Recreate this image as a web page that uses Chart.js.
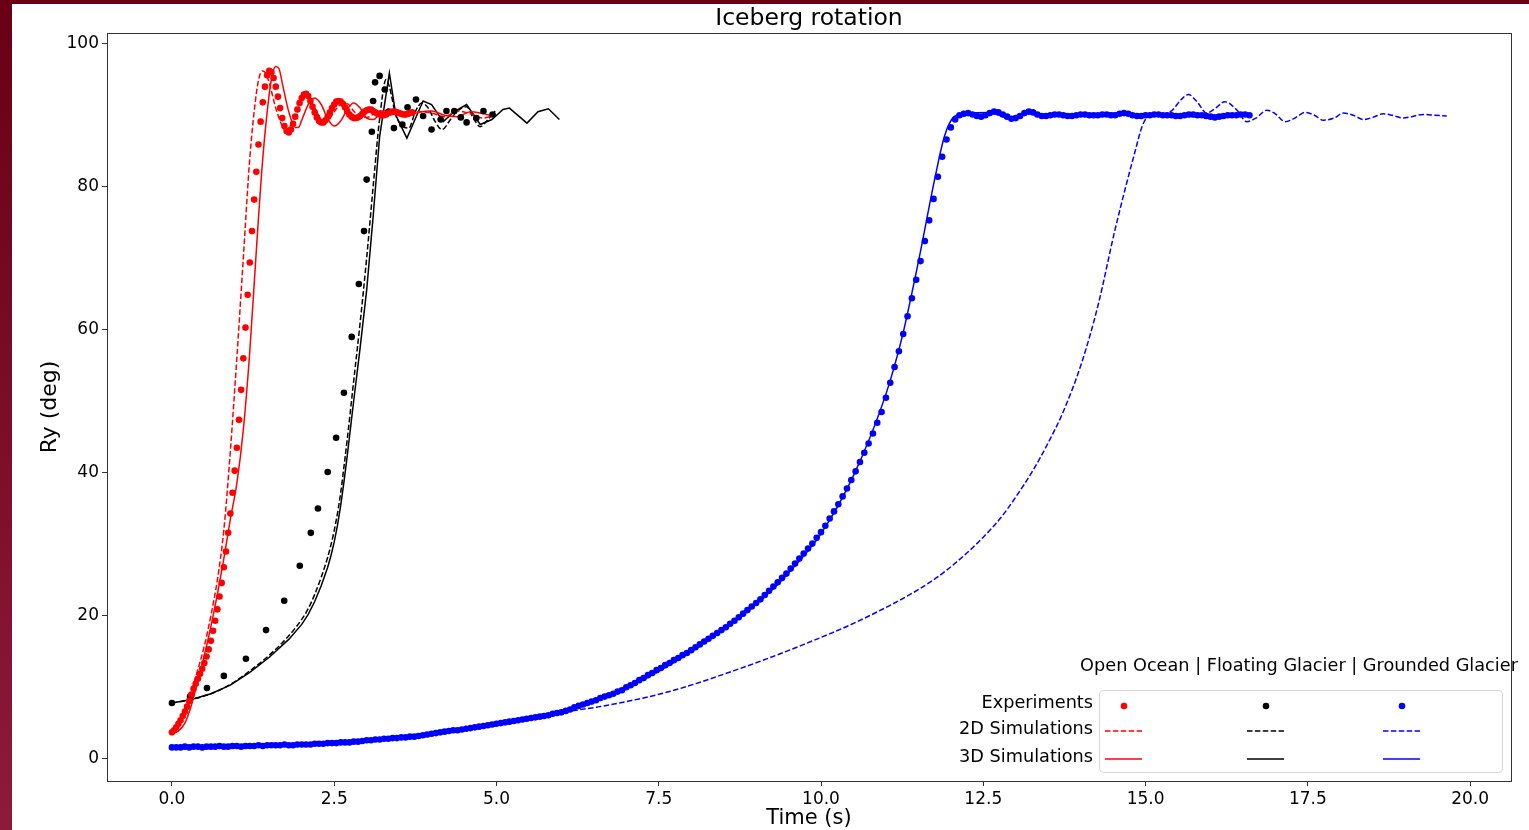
<!DOCTYPE html>
<html>
<head>
<meta charset="utf-8">
<script src="https://cdn.jsdelivr.net/npm/chart.js@4.4.1/dist/chart.umd.min.js"></script>
<style>
  html, body { margin: 0; padding: 0; width: 1529px; height: 830px; overflow: hidden; }
  body { background: linear-gradient(to bottom, #690014, #8c1a3c); }
  #wrap { position: absolute; left: 12px; top: 4px; width: 1517px; height: 826px; background: #fff; }
</style>
</head>
<body>
<div id="wrap"><canvas id="chart_canvas" width="1517" height="826"></canvas></div>
<script>
// axis ticks
const xTicks = [0, 2.5, 5, 7.5, 10, 12.5, 15, 17.5, 20];
const yTicks = [0, 20, 40, 60, 80, 100];
const chartTitle = 'Iceberg rotation';

// Open Ocean - experiments (video, 30 frames per second from t=0)
const redExpFps = 30;
const redExp = [
	3.7, 4.0, 4.4, 4.9, 5.4, 6.0, 6.6, 7.3, 8.1, 9.0,
	9.8, 10.5, 11.2, 11.9, 12.6, 13.4, 14.3, 15.3, 16.5, 17.9,
	19.3, 20.9, 22.7, 24.6, 26.8, 29.0, 31.6, 34.3, 37.2, 40.3,
	43.5, 47.4, 51.6, 56.0, 60.3, 64.9, 69.4, 73.8, 78.2, 82.1,
	85.9, 89.1, 91.8, 94.0, 95.6, 96.2, 96.0, 95.2, 94.0, 92.6,
	91.0, 89.6, 88.5, 87.8, 87.6, 88.0, 88.8, 89.8, 90.8, 91.7,
	92.4, 92.9, 93.0, 92.7, 92.0, 91.2, 90.4, 89.7, 89.2, 89.0,
	89.0, 89.3, 89.8, 90.4, 91.0, 91.5, 91.9, 92.0, 91.9, 91.6,
	91.1, 90.6, 90.1, 89.8, 89.6, 89.6, 89.7, 89.9, 90.2, 90.5,
	90.7, 90.8, 90.8, 90.6, 90.4, 90.2, 90.1, 90.0, 90.0, 90.1,
	90.3, 90.4, 90.5, 90.5, 90.4, 90.3, 90.2, 90.1, 90.1, 90.2, 90.3, 90.4
];
// Open Ocean - simulations
const red2dT = [0, 0.1, 0.2, 0.3, 0.4, 0.5, 0.6, 0.7, 0.8, 0.9, 1.0, 1.1, 1.2, 1.3, 1.35, 1.4, 1.45, 1.5, 1.6, 1.7, 1.75, 1.8, 1.9, 2.0, 2.05, 2.1, 2.2, 2.3, 2.4, 2.5, 2.6, 2.7, 2.8, 2.9, 3.0, 3.2, 3.4, 3.6, 3.8, 4.0, 4.2, 4.4, 4.6, 4.8, 4.95];
const red2d = [3.7, 4.8, 6.8, 9.5, 12.5, 15.8, 20.0, 25.0, 32.0, 43.0, 56.0, 70.0, 84.0, 93.0, 95.5, 96.2, 95.8, 94.5, 91.0, 88.5, 88.0, 88.2, 90.0, 92.0, 92.6, 92.5, 91.0, 89.5, 89.3, 90.5, 91.5, 91.6, 90.6, 89.8, 89.7, 90.6, 90.4, 89.9, 90.5, 90.3, 89.8, 90.6, 90.2, 89.6, 90.0];
const red3dT = [0, 0.1, 0.2, 0.3, 0.4, 0.5, 0.6, 0.7, 0.8, 0.9, 1.0, 1.1, 1.2, 1.3, 1.4, 1.5, 1.55, 1.6, 1.65, 1.7, 1.8, 1.9, 1.95, 2.0, 2.1, 2.2, 2.3, 2.4, 2.5, 2.6, 2.7, 2.8, 2.9, 3.0, 3.1, 3.2, 3.3, 3.4, 3.5, 3.6, 3.8, 4.0, 4.2, 4.4, 4.6, 4.8, 4.9];
const red3d = [3.5, 3.9, 5.0, 7.5, 11.0, 14.5, 18.5, 23.0, 28.0, 33.5, 38.5, 46.0, 57.0, 71.0, 84.0, 93.0, 95.8, 96.8, 96.5, 94.5, 90.5, 88.3, 88.3, 89.3, 91.5, 92.4, 91.5, 89.5, 88.5, 89.2, 90.8, 91.7, 91.0, 89.6, 89.4, 90.1, 90.7, 90.6, 90.0, 89.8, 90.4, 90.6, 90.0, 89.8, 90.5, 90.2, 90.0];

// Floating Glacier
const blackExpT = [0, 0.28, 0.54, 0.8, 1.14, 1.45, 1.73, 1.97, 2.14, 2.25, 2.4, 2.53, 2.65, 2.77, 2.88, 2.96, 3.0, 3.08, 3.1, 3.13, 3.2, 3.28, 3.34, 3.42, 3.55, 3.63, 3.76, 3.87, 4.0, 4.14, 4.23, 4.35, 4.45, 4.54, 4.69, 4.8, 4.94];
const blackExp = [7.8, 8.7, 9.9, 11.6, 14.0, 18.0, 22.1, 27.0, 31.6, 35.0, 40.1, 44.9, 51.2, 59.0, 66.4, 73.8, 81.0, 87.7, 92.0, 94.6, 95.5, 93.6, 90.5, 88.2, 88.7, 91.1, 92.2, 89.9, 88.0, 89.4, 90.6, 90.6, 89.7, 89.0, 89.6, 90.6, 90.1];
const black2dT = [0, 0.3, 0.6, 0.9, 1.2, 1.5, 1.8, 2.0, 2.1, 2.2, 2.3, 2.4, 2.45, 2.5, 2.55, 2.6, 2.65, 2.7, 2.8, 2.9, 3.0, 3.1, 3.2, 3.3, 3.35, 3.45, 3.55, 3.65, 3.75, 3.85, 3.95, 4.05, 4.16, 4.3, 4.4, 4.54, 4.65, 4.75, 4.85, 4.98];
const black2d = [7.8, 8.3, 9.1, 10.4, 12.3, 14.5, 17.2, 19.5, 21.0, 23.0, 25.4, 28.2, 29.9, 31.9, 34.3, 37.2, 40.8, 44.6, 52.8, 61.0, 70.0, 80.0, 89.5, 95.0, 94.0, 90.0, 88.5, 88.2, 90.5, 91.7, 91.0, 89.2, 88.0, 89.5, 90.6, 91.2, 89.5, 88.4, 89.2, 90.6];
const black3dT = [0, 0.3, 0.6, 0.9, 1.2, 1.5, 1.8, 2.0, 2.1, 2.2, 2.3, 2.4, 2.45, 2.5, 2.55, 2.6, 2.65, 2.7, 2.8, 2.9, 3.0, 3.1, 3.2, 3.35, 3.45, 3.62, 3.75, 3.87, 4.0, 4.18, 4.35, 4.54, 4.75, 4.93, 5.1, 5.2, 5.47, 5.64, 5.8, 5.97];
const black3d = [7.8, 8.3, 9.1, 10.3, 12.1, 14.2, 16.7, 18.8, 20.2, 22.0, 24.2, 26.8, 28.4, 30.3, 32.6, 35.4, 38.7, 42.3, 50.0, 57.5, 65.5, 75.8, 87.0, 95.9, 90.0, 86.8, 89.5, 92.0, 91.5, 89.1, 90.5, 91.5, 88.7, 89.4, 90.8, 91.0, 88.9, 90.5, 90.9, 89.4];

// Grounded Glacier - experiments (15 frames per second from t=0)
const blueExpFps = 15;
const blueExp = [
	1.6, 1.6, 1.6, 1.7, 1.6, 1.7, 1.7, 1.6, 1.7, 1.7, 1.7, 1.8, 1.7, 1.7, 1.8,
	1.8, 1.7, 1.8, 1.8, 1.8, 1.9, 1.8, 1.9, 1.9, 1.9, 1.9, 2.0, 1.9, 1.9, 2.0,
	2.0, 2.0, 2.0, 2.1, 2.1, 2.1, 2.2, 2.2, 2.2, 2.3, 2.3, 2.3, 2.4, 2.4, 2.5,
	2.6, 2.6, 2.7, 2.7, 2.8, 2.8, 2.9, 2.9, 3.0, 3.0, 3.1, 3.1, 3.2, 3.3, 3.4,
	3.5, 3.6, 3.7, 3.8, 3.9, 4.0, 4.0, 4.1, 4.2, 4.3, 4.4, 4.5, 4.6, 4.7, 4.8,
	4.9, 5.0, 5.1, 5.2, 5.3, 5.4, 5.5, 5.6, 5.7, 5.8, 5.9, 6.0, 6.1, 6.3, 6.4,
	6.5, 6.7, 6.9, 7.2, 7.4, 7.6, 7.8, 8.0, 8.2, 8.5, 8.7, 8.9, 9.1, 9.4, 9.6,
	10.0, 10.3, 10.6, 11.0, 11.3, 11.7, 12.0, 12.4, 12.7, 13.1, 13.4, 13.8, 14.1, 14.5, 14.8,
	15.2, 15.6, 16.0, 16.4, 16.8, 17.2, 17.6, 18.0, 18.4, 18.9, 19.3, 19.8, 20.3, 20.8, 21.3,
	21.8, 22.3, 22.9, 23.5, 24.1, 24.7, 25.3, 25.9, 26.6, 27.3, 28.0, 28.7, 29.4, 30.1, 30.9,
	31.7, 32.6, 33.6, 34.6, 35.6, 36.7, 37.8, 39.0, 40.2, 41.5, 42.8, 44.1, 45.5, 47.0, 48.5,
	50.5, 52.6, 54.8, 57.0, 59.4, 61.9, 64.4, 67.0, 69.6, 72.4, 75.3, 78.3, 81.4, 84.2, 86.6,
	88.3, 89.4, 90.0, 90.2, 90.3, 90.1, 89.9, 89.8, 90.0, 90.3, 90.5, 90.4, 90.1, 89.8, 89.5,
	89.6, 89.9, 90.3, 90.5, 90.4, 90.1, 89.9, 89.9, 90.0, 90.1, 90.1, 90.0, 89.9, 89.9, 90.0,
	90.1, 90.1, 90.0, 90.0, 90.0, 90.1, 90.1, 90.0, 90.0, 90.2, 90.3, 90.2, 90.0, 89.9, 89.9,
	90.0, 90.0, 90.1, 90.1, 90.0, 90.0, 90.0, 89.9, 89.9, 90.0, 90.1, 90.1, 90.0, 90.0, 89.9,
	89.8, 89.7, 89.8, 89.9, 90.0, 90.0, 90.0, 90.1, 90.1, 90.0
];
// Grounded Glacier - simulations
const blue2dT = [0, 1, 2, 3, 4, 5, 6, 6.59, 7.62, 8.65, 9.68, 10.7, 11.73, 12.2, 12.5, 12.76, 13.0, 13.27, 13.5, 13.73, 14.02, 14.27, 14.53, 14.84, 14.95, 15.05, 15.2, 15.4, 15.55, 15.66, 15.8, 15.94, 16.08, 16.22, 16.4, 16.56, 16.7, 16.87, 17.0, 17.15, 17.3, 17.46, 17.6, 17.74, 17.9, 18.05, 18.2, 18.36, 18.5, 18.66, 18.8, 18.97, 19.1, 19.28, 19.45, 19.64];
const blue2d = [1.6, 1.8, 2.0, 2.6, 3.5, 4.9, 6.5, 7.3, 9.3, 12.3, 15.8, 19.8, 25.0, 28.4, 31.0, 33.6, 36.6, 40.4, 44.2, 48.5, 55.5, 63.5, 74.0, 85.0, 88.5, 89.9, 90.1, 90.6, 92.2, 92.9, 91.8, 90.3, 91.0, 91.9, 90.8, 89.1, 89.6, 90.7, 90.2, 89.1, 89.6, 90.4, 90.0, 89.3, 89.6, 90.3, 90.0, 89.4, 89.7, 90.2, 90.0, 89.6, 89.8, 90.1, 90.0, 89.9];
const blue3dT = [0, 2, 4, 6, 7, 8, 9, 9.5, 10, 10.5, 11, 11.25, 11.5, 11.75, 11.9, 12.05, 12.2, 12.6, 12.9, 13.15, 13.5, 14, 14.6, 15, 16, 16.6];
const blue3d = [1.6, 2.0, 3.5, 6.5, 9.9, 15.0, 21.6, 26.0, 31.5, 39.6, 51.0, 59.0, 69.5, 81.0, 87.0, 89.8, 90.2, 90.4, 89.6, 90.4, 90.0, 90.0, 90.3, 90.0, 89.8, 90.0];

const RED = '#ff0000', BLACK = '#000000', BLUE = '#0000ff';
const DASH = [5.5, 2.4];
const FONT = '"DejaVu Sans", sans-serif';

function pairs(ts, vs) {
	return vs.map((v, i) => ({x: ts[i], y: v}));
}
function frames(fps, vs) {
	return vs.map((v, i) => ({x: i / fps, y: v}));
}
function expSet(data, color) {
	return {data: data, showLine: false, pointRadius: 3.3, pointBorderWidth: 0,
		pointBackgroundColor: color, backgroundColor: color, order: 0};
}
function simSet(data, color, dashed, straight) {
	return {data: data, showLine: true, pointRadius: 0, borderWidth: 1.5, borderColor: color,
		borderDash: dashed ? DASH : [], tension: 0,
		cubicInterpolationMode: straight ? 'default' : 'monotone', order: 1};
}

// title over the plot area, frame and the table-like legend
const framePlugin = {
	id: 'frame',
	afterDraw(chart) {
		const c = chart.ctx, a = chart.chartArea;
		c.save();
		c.strokeStyle = '#333';
		c.lineWidth = 1;
		c.strokeRect(Math.round(a.left) + 0.5, Math.round(a.top) + 0.5,
			Math.round(a.right - a.left), Math.round(a.bottom - a.top));

		c.fillStyle = '#000';
		c.font = '23.5px ' + FONT;
		c.textAlign = 'center';
		c.textBaseline = 'middle';
		c.fillText(chartTitle, (a.left + a.right) / 2, a.top - 14);

		const bx = a.right - 412, by = a.bottom - 91, bw = 403, bh = 82;
		c.fillStyle = 'rgba(255,255,255,0.8)';
		c.strokeStyle = '#d6d6d6';
		c.beginPath();
		c.roundRect(bx + 0.5, by + 0.5, bw, bh, 4);
		c.fill();
		c.stroke();

		c.fillStyle = '#000';
		c.font = '17.7px ' + FONT;
		c.fillText('Open Ocean | Floating Glacier | Grounded Glacier', a.right - 212, a.bottom - 115);

		const rows = ['Experiments', '2D Simulations', '3D Simulations'];
		const rowY = [a.bottom - 77, a.bottom - 51, a.bottom - 23];
		c.textAlign = 'right';
		rows.forEach((r, i) => c.fillText(r, bx - 6, rowY[i] - 1));

		const cols = [[RED, bx + 6], [BLACK, bx + 148], [BLUE, bx + 284]];
		cols.forEach(([col, x0]) => {
			c.fillStyle = col;
			c.beginPath();
			c.arc(x0 + 19, rowY[0] + 2, 3.3, 0, Math.PI * 2);
			c.fill();
			c.strokeStyle = col;
			c.lineWidth = 1.5;
			c.setLineDash(DASH);
			c.beginPath();
			c.moveTo(x0, rowY[1] + 1);
			c.lineTo(x0 + 37, rowY[1] + 1);
			c.stroke();
			c.setLineDash([]);
			c.beginPath();
			c.moveTo(x0, rowY[2] + 1);
			c.lineTo(x0 + 37, rowY[2] + 1);
			c.stroke();
		});
		c.restore();
	}
};

const ctx = document.getElementById('chart_canvas').getContext('2d');
Chart.defaults.font.family = FONT;
Chart.defaults.color = '#000';

new Chart(ctx, {
	type: 'scatter',
	data: {
		datasets: [
			expSet(frames(redExpFps, redExp), RED),
			expSet(pairs(blackExpT, blackExp), BLACK),
			expSet(frames(blueExpFps, blueExp), BLUE),
			simSet(pairs(red2dT, red2d), RED, true, false),
			simSet(pairs(red3dT, red3d), RED, false, false),
			simSet(pairs(black2dT, black2d), BLACK, true, false),
			simSet(pairs(black3dT, black3d), BLACK, false, true),
			simSet(pairs(blue2dT, blue2d), BLUE, true, false),
			simSet(pairs(blue3dT, blue3d), BLUE, false, false)
		]
	},
	options: {
		responsive: false,
		animation: false,
		layout: {padding: {left: 0, right: 18, top: 29, bottom: 0}},
		plugins: {
			legend: {display: false},
			tooltip: {enabled: false},
			title: {display: false}
		},
		scales: {
			x: {
				type: 'linear', min: -1.0, max: 20.63,
				afterBuildTicks: s => { s.ticks = xTicks.map(v => ({value: v})); },
				afterFit: s => { s.height = 49; },
				ticks: {font: {size: 17}, color: '#000', padding: 3, maxRotation: 0, autoSkip: false,
					callback: v => Number(v).toFixed(1)},
				grid: {drawOnChartArea: false, tickLength: 5, color: '#333'},
				border: {display: false},
				title: {display: true, text: 'Time (s)', color: '#000', font: {size: 21}, padding: {top: 0, bottom: -1}}
			},
			y: {
				type: 'linear', min: -3.1, max: 101.5,
				afterBuildTicks: s => { s.ticks = yTicks.map(v => ({value: v})); },
				afterFit: s => { s.width = 95; },
				ticks: {font: {size: 17}, color: '#000', padding: 3, autoSkip: false},
				grid: {drawOnChartArea: false, tickLength: 5, color: '#333'},
				border: {display: false},
				title: {display: true, text: 'Ry (deg)', color: '#000', font: {size: 22}, padding: {top: 25, bottom: 0}}
			}
		}
	},
	plugins: [framePlugin]
});
</script>
</body>
</html>
